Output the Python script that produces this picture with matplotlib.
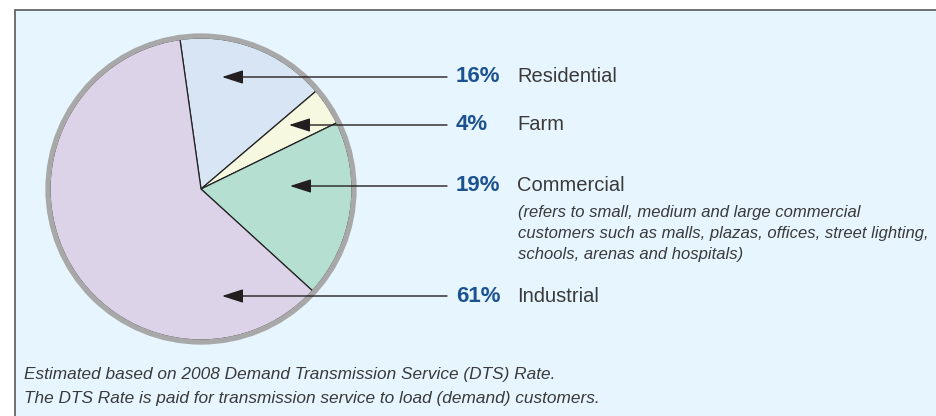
import matplotlib.pyplot as plt
from matplotlib.patches import Circle, Rectangle

# shares of DTS revenue by customer class (clockwise from top)
categories = ['Residential', 'Farm', 'Commercial', 'Industrial']
shares = [16, 4, 19, 61]
pct_labels = ['16%', '4%', '19%', '61%']
commercial_note = ['(refers to small, medium and large commercial',
                   'customers such as malls, plazas, offices, street lighting,',
                   'schools, arenas and hospitals)']
footnote = ['Estimated based on 2008 Demand Transmission Service (DTS) Rate.',
            'The DTS Rate is paid for transmission service to load (demand) customers.']

colors = ['#d8e5f5', '#f6f8df', '#b5dfd0', '#ddd3e9']

W, H = 937, 416
fig = plt.figure(figsize=(W / 100, H / 100), dpi=100)
fig.patch.set_facecolor('white')
ax = fig.add_axes([0, 0, 1, 1])

# panel background and frame (screen coords: y measured from top)
def sy(y):
    return H - y

ax.add_patch(Rectangle((15, sy(460)), 960, 450, facecolor='#e6f5fe',
                       edgecolor='#666666', linewidth=1.3, zorder=0))

cx, cy, r = 201, sy(189), 151
ax.pie(shares, colors=colors, startangle=98, counterclock=False,
       center=(cx, cy), radius=r,
       wedgeprops=dict(edgecolor='#222222', linewidth=0.9))
ax.add_patch(Circle((cx, cy), r + 2, facecolor='none',
                    edgecolor='#a8a8a8', linewidth=3.8, zorder=5))

# label rows: y of each row and where the arrow points
label_y = [77, 125, 186, 296]
tips = [(222, 77), (289, 125), (290, 186), (222, 296)]

for cat, pct, y, tip in zip(categories, pct_labels, label_y, tips):
    ax.annotate('', xy=(tip[0], sy(tip[1])), xytext=(447, sy(y)),
                arrowprops=dict(arrowstyle='-|>,head_length=1.3,head_width=0.42',
                                mutation_scale=10, color='#231f20',
                                linewidth=1.0, shrinkA=0, shrinkB=0),
                zorder=6)
    ax.text(456, sy(y), pct, fontsize=16, fontweight='bold', color='#1d5290',
            va='center', ha='left', family='Liberation Sans')
    ax.text(517, sy(y), cat, fontsize=14.5, color='#3a3a3a',
            va='center', ha='left', family='Liberation Sans')

for i, line in enumerate(commercial_note):
    ax.text(518, sy(213 + 21 * i), line, fontsize=12, style='italic',
            color='#3a3a3a', va='center', ha='left', family='Liberation Sans')

for i, line in enumerate(footnote):
    ax.text(24, sy(375 + 23 * i), line, fontsize=12.4, style='italic',
            color='#3a3a3a', va='center', ha='left', family='Liberation Sans')

ax.set_xlim(0, W)
ax.set_ylim(0, H)
ax.set_aspect('equal')
ax.axis('off')

fig.savefig('out.png', dpi=100)
